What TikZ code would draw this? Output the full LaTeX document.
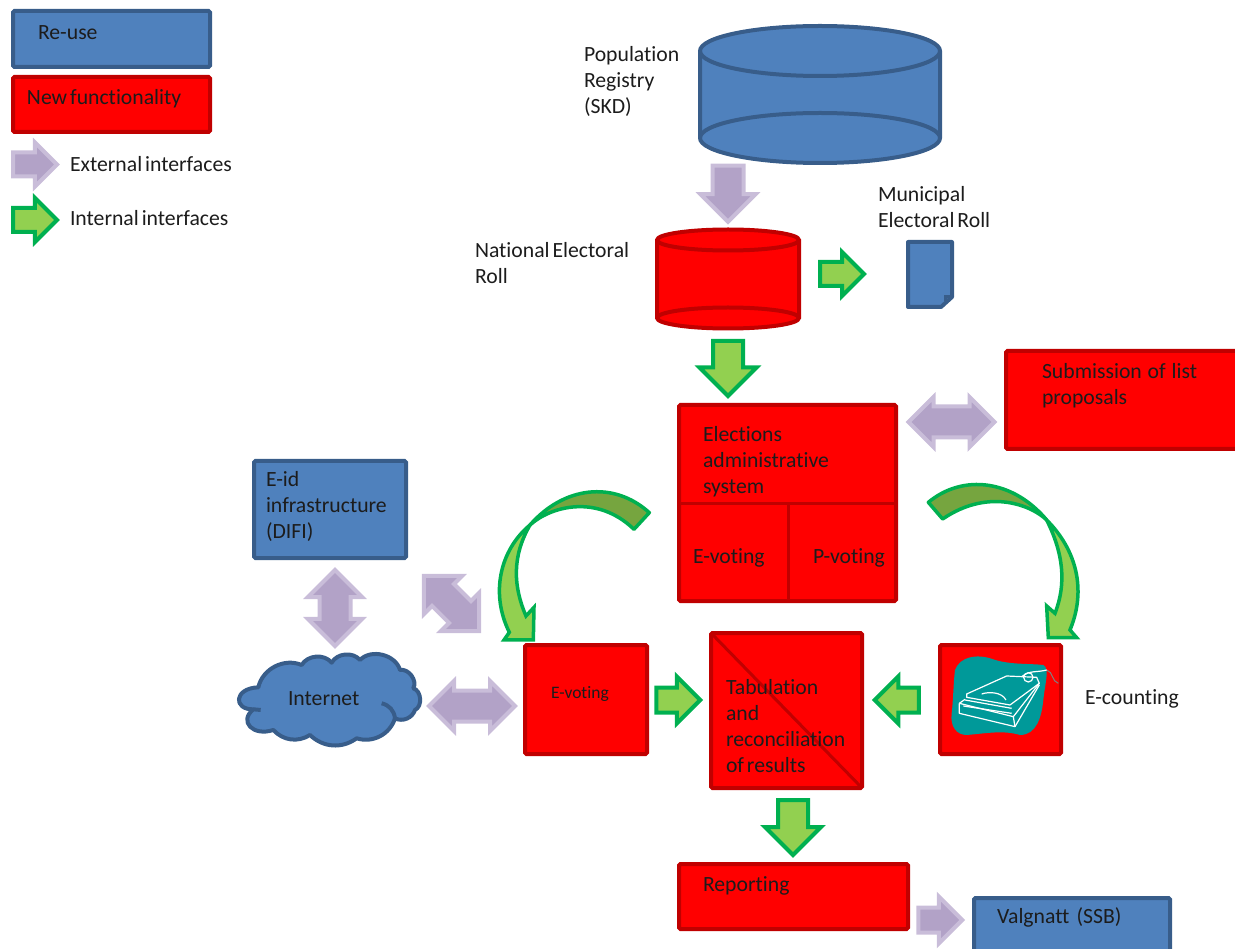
\documentclass[tikz,border=0pt]{standalone}
\usepackage{fontspec}
\setmainfont[Ligatures=NoCommon,WordSpace=0.6]{Carlito}
\newfontfamily\widesp[Ligatures=NoCommon,WordSpace=2]{Carlito}
\newfontfamily\midsp[Ligatures=NoCommon,WordSpace=1.2]{Carlito}
\usetikzlibrary{shapes.arrows}
\definecolor{bfill}{HTML}{4F81BD}
\definecolor{bline}{HTML}{385D8A}
\definecolor{rfill}{HTML}{FF0000}
\definecolor{rline}{HTML}{C00000}
\definecolor{gfill}{HTML}{92D050}
\definecolor{gdark}{HTML}{76A53F}
\definecolor{gline}{HTML}{00B050}
\definecolor{pfill}{HTML}{B2A2C7}
\definecolor{pline}{HTML}{C9BDD9}
\definecolor{teal}{HTML}{009999}
\definecolor{ink}{HTML}{1C1C1C}
\tikzset{
  bx/.style args={#1/#2}{rectangle,rounded corners=1.5pt,line width=4pt,minimum width=#1,minimum height=#2,inner sep=0pt,outer sep=0pt},
  bluebox/.style={bx=#1,draw=bline,fill=bfill},
  redbox/.style={bx=#1,draw=rline,fill=rfill},
  green/.style={draw=gline,fill=gfill,line width=4pt},
  purple/.style={draw=pline,fill=pfill,line width=4pt},
  sarr/.style args={#1/#2/#3}{single arrow,minimum height=#1,minimum width=#2,inner sep=#3*0.5,outer sep=0pt,single arrow head extend=(#2-#3)*0.5},
  darr/.style args={#1/#2/#3}{double arrow,minimum height=#1,minimum width=#2,inner sep=#3*0.5,outer sep=0pt,double arrow head extend=(#2-#3)*0.5},
  txt/.style={anchor=west,inner sep=0pt,outer sep=0pt,align=left,text=ink,font=\fontsize{21.7}{26}\selectfont},
  small/.style={txt,font=\fontsize{17.5}{20}\selectfont},
  curvedark/.style={line width=3.5pt,draw=gline,fill=gdark,line join=round},
  curvelight/.style={line width=3.5pt,draw=gline,fill=gfill,line join=miter},
}
\begin{document}
\begin{tikzpicture}[x=1pt,y=-1pt]
\useasboundingbox (0,0) rectangle (1235,949);
% legend
\node[bluebox=197pt/56pt] (reuse) at (111.5,39) {};
\node[redbox=197pt/55pt] (newf) at (111.5,104.5) {};
\node[purple,sarr=44pt/40pt/20pt] (legext) at (29,164.5) {};
\node[green,sarr=44pt/40pt/20pt] (legint) at (29,220) {};
\node[txt] (treuse) at (38,33) {Re-use};
\node[txt] (tnewf) at (27,99) {New functionality};
\node[txt] (text) at (70,164) {External interfaces};
\node[txt] (tint) at (70,218) {Internal interfaces};
% population registry
\filldraw[line width=4pt,draw=bline,fill=bfill] (700,51) -- (700,138) arc[x radius=120,y radius=25,start angle=180,end angle=0] -- (940,51) arc[x radius=120,y radius=25,start angle=0,end angle=-180] -- cycle;
\draw[line width=4pt,draw=bline] (700,51) arc[x radius=120,y radius=25,start angle=180,end angle=0];
\draw[line width=4pt,draw=bline] (700,138) arc[x radius=120,y radius=25,start angle=180,end angle=360];
\node[txt] (tpop) at (584,81) {Population\\Registry\\(SKD)};
\node[purple,sarr=56pt/51pt/27pt,rotate=-90] (a1) at (728,186) {};
% national roll
\filldraw[line width=4pt,draw=rline,fill=rfill] (657,240) -- (657,318) arc[x radius=71,y radius=10.5,start angle=180,end angle=0] -- (799,240) arc[x radius=71,y radius=10.5,start angle=0,end angle=-180] -- cycle;
\draw[line width=4pt,draw=rline] (657,240) arc[x radius=71,y radius=10.5,start angle=180,end angle=0];
\draw[line width=4pt,draw=rline] (657,318) arc[x radius=71,y radius=10.5,start angle=180,end angle=360];
\node[txt] (tnat) at (475,263) {National Electoral\\Roll};
\node[green,sarr=44pt/40pt/20pt] (a2) at (836,274) {};
% municipal doc
\filldraw[line width=4pt,draw=bline,fill=bfill,line join=round] (908,242) -- (952,242) -- (952,297) -- (941,307) -- (908,307) -- cycle;
\draw[line width=3pt,draw=bline] (945,301) -- (945,297) -- (950,297);
\node[txt] (tmun) at (878,207) {Municipal\\Electoral Roll};
\node[green,sarr=55pt/53pt/26pt,rotate=-90] (a3) at (728,361) {};
% elections
\node[redbox=217pt/196pt] (elect) at (787.5,503) {};
\draw[line width=3pt,rline] (elect.west |- 0,504) -- (elect.east |- 0,504);
\draw[line width=3pt,rline] (788,504) -- (elect.south -| 788,0);
\node[txt] (tel) at (703,462) {Elections\\administrative\\system};
\node[txt] (tev) at (693,558) {E-voting};
\node[txt] (tpv) at (813,558) {P-voting};
% submission
\node[redbox=232pt/98pt] (subm) at (1122,400) {};
\node[txt,font=\fontsize{21.7}{26}\widesp] (tsub) at (1042,386) {Submission of list\\proposals};
\node[purple,darr=86pt/46pt/27pt] (a4) at (951.5,422) {};
% eid
\node[bluebox=152pt/97pt] (eid) at (330,509.5) {};
\node[txt] (teid) at (266,506) {E-id\\infrastructure\\(DIFI)};
\node[purple,darr=76pt/50pt/27pt,rotate=90] (a5) at (335,608) {};
\node[purple,darr=78pt/50pt/27pt,rotate=-45] (a6) at (451.5,603.5) {};
% internet
\begin{scope}[shift={(230,480)},x=0.3333pt,y=-0.3333pt]
\filldraw[line width=4pt,draw=bline,fill=bfill,line join=round]
 (85,622) to[bend left=50] (215,555) to[bend left=55] (305,548) to[bend left=55] (390,540)
 to[bend left=60] (510,570) to[bend left=65] (550,625) to[bend left=70] (555,690) to[bend left=50] (495,715)
 to[bend left=45] (380,775) to[bend left=40] (240,765) to[bend left=40] (130,750) .. controls (70,770) and (25,725) .. (70,688)
 .. controls (10,690) and (10,625) .. (85,622) -- cycle;
\draw[line width=4pt,draw=bline] (455,670) to[bend left=35] (495,715);
\draw[line width=4pt,draw=bline] (70,688) -- (92,690);
\end{scope}
\node[txt] (tinet) at (288,699) {Internet};
\node[purple,darr=86pt/46pt/27pt] (a7) at (472,706) {};
% evoting, tabulation, ecounting
\node[redbox=122pt/109pt] (evote) at (586,699.5) {};
\node[small] (tev2) at (551,694) {E-voting};
\node[redbox=151pt/155pt] (tab) at (786.5,710.5) {};
\draw[line width=3pt,rline] (tab.north west) -- (tab.south east);
\node[txt] (ttab) at (726,726) {Tabulation\\and\\reconciliation\\of results};
\node[redbox=121pt/109pt] (ecount) at (1000.5,699.5) {};
\node[txt] (tec) at (1085,699) {E-counting};
\node[green,sarr=44pt/43pt/21pt] (a8) at (672,700) {};
\node[green,sarr=44pt/43pt/21pt,rotate=180] (a9) at (903,700) {};
\node[green,sarr=55pt/52pt/26pt,rotate=-90] (a10) at (793,820) {};
% scanner
\begin{scope}[shift={(900,620)},x=0.3333pt,y=-0.3333pt]
\fill[teal] (165,150) .. controls (180,110) and (230,100) .. (280,118) .. controls (330,135) and (390,130) .. (430,135)
 .. controls (450,145) and (435,190) .. (430,240) .. controls (425,290) and (410,345) .. (360,345)
 .. controls (310,330) and (260,340) .. (200,345) .. controls (170,345) and (150,320) .. (155,280) .. controls (160,240) and (160,190) .. (165,150) -- cycle;
\draw[line width=1pt,gray] (440,150) .. controls (460,155) and (455,185) .. (475,190);
\begin{scope}[draw=white,line width=1.2pt,line join=round]
\draw (200,222) -- (320,168) -- (410,172) -- (418,190) -- (330,255) -- (200,232) -- cycle;
\draw (245,222) .. controls (265,215) and (305,215) .. (318,240);
\draw (178,250) -- (178,280) -- (345,320) -- (418,195);
\draw (178,250) -- (195,238);
\draw (178,250) -- (340,290) -- (345,320);
\draw (340,290) -- (418,190);
\draw (195,240) -- (335,265);
\draw (190,258) -- (335,280);
\draw (365,170) .. controls (390,150) and (410,158) .. (440,150);
\draw (385,172) circle[radius=14];
\end{scope}
\end{scope}
% curved arrows
\begin{scope}[shift={(900,470)},x=0.3333pt,y=-0.3333pt]
\filldraw[curvedark] (85,97) .. controls (190,10) and (340,30) .. (440,150) .. controls (400,110) and (270,50) .. (128,147) -- cycle;
\filldraw[curvelight] (440,150) .. controls (530,240) and (560,360) .. (510,480) -- (530,503) -- (445,503) -- (440,408) -- (465,430) .. controls (500,340) and (490,250) .. (440,150) -- cycle;
\end{scope}
\begin{scope}[shift={(480,470)},x=0.3333pt,y=-0.3333pt]
\filldraw[curvedark] (508,128) .. controls (400,30) and (250,50) .. (150,165) .. controls (210,110) and (350,70) .. (462,178) -- cycle;
\filldraw[curvelight] (150,165) .. controls (60,240) and (30,370) .. (88,487) -- (72,510) -- (160,510) -- (162,412) -- (138,438) .. controls (100,350) and (95,260) .. (150,165) -- cycle;
\end{scope}
% reporting
\node[redbox=229pt/65pt] (report) at (793.5,896.5) {};
\node[txt] (trep) at (703,886) {Reporting};
\node[purple,sarr=44pt/43pt/21pt] (a11) at (934,920) {};
\node[bluebox=196pt/60pt] (valg) at (1072,928) {};
\node[txt,font=\fontsize{21.7}{26}\midsp] (tval) at (997,917) {Valgnatt (SSB)};
\end{tikzpicture}
\end{document}
